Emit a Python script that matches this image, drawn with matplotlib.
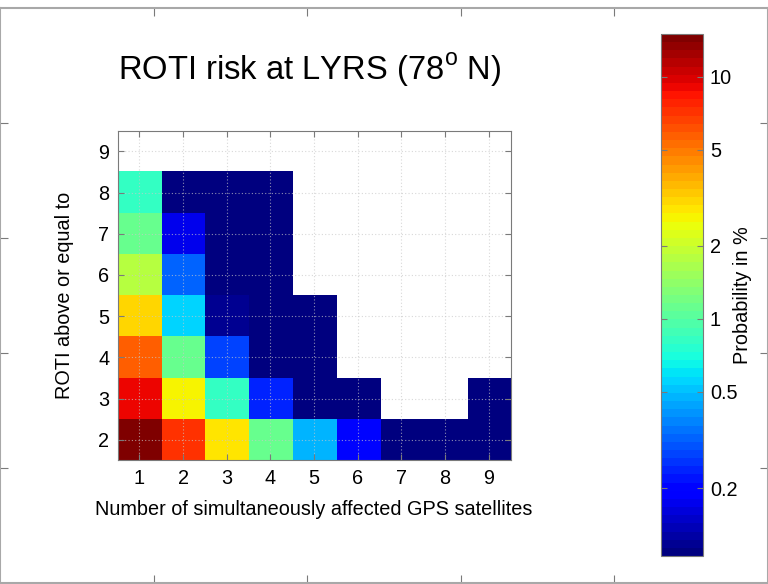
"""
roti_risk.py -- ROTI exceedance probability map for the LYRS station
"""

import numpy as np
import matplotlib
matplotlib.use("Agg")
import matplotlib.pyplot as plt
from matplotlib.colors import LogNorm

plt.rcParams["font.family"] = ["Liberation Sans", "DejaVu Sans"]
plt.rcParams["mathtext.fontset"] = "custom"
plt.rcParams["mathtext.rm"] = "Liberation Sans"

# ── Data ─────────────────────────────────────────────────────────────────────
n_sats = [1, 2, 3, 4, 5, 6, 7, 8, 9]          # affected GPS satellites
roti_levels = [2, 3, 4, 5, 6, 7, 8, 9]        # ROTI threshold
nan = np.nan
# probability in %, one row per ROTI level (2 .. 9)
prob_roti2 = [14.0, 7.0, 2.9, 1.16, 0.48, 0.20, 0.10, 0.10, 0.10]
prob_roti3 = [9.0, 2.6, 0.80, 0.24, 0.10, 0.10, nan, nan, 0.10]
prob_roti4 = [5.5, 1.13, 0.27, 0.10, 0.10, nan, nan, nan, nan]
prob_roti5 = [3.0, 0.56, 0.12, 0.10, 0.10, nan, nan, nan, nan]
prob_roti6 = [1.74, 0.32, 0.10, 0.10, nan, nan, nan, nan, nan]
prob_roti7 = [1.15, 0.17, 0.10, 0.10, nan, nan, nan, nan, nan]
prob_roti8 = [0.82, 0.11, 0.10, 0.10, nan, nan, nan, nan, nan]
prob_roti9 = [nan] * 9
cbar_ticks = [0.2, 0.5, 1, 2, 5, 10]

grid = np.array([prob_roti2, prob_roti3, prob_roti4, prob_roti5,
                 prob_roti6, prob_roti7, prob_roti8, prob_roti9])

FRAME = "#7a7a7a"
GRID = "#c8c8c8"
FS = 14.3

cmap = plt.get_cmap("jet", 64).copy()
cmap.set_bad("white")
norm = LogNorm(vmin=0.105, vmax=15)

W, H = 768, 584
fig = plt.figure(figsize=(W / 100, H / 100), dpi=100, facecolor="white")

# ── Outer frame with edge ticks ──────────────────────────────────────────────
frame = fig.add_axes([0, 1 / H, 1, 575 / H], zorder=-1)
frame.set_xlim(0, 1)
frame.set_ylim(0, 1)
frame.set_xticks([0.2, 0.4, 0.6, 0.8])
frame.set_yticks([0.2, 0.4, 0.6, 0.8])
frame.tick_params(direction="in", length=6, color=FRAME, labelleft=False,
                  labelbottom=False, top=True, right=True)
for sp in frame.spines.values():
    sp.set_color("#a8a8a8")
    sp.set_linewidth(1.5)

# ── Heat map ─────────────────────────────────────────────────────────────────
x0, x1 = 117.5, 510.7
y0, y1 = 130.7, 460.3
ax = fig.add_axes([x0 / W, 1 - y1 / H, (x1 - x0) / W, (y1 - y0) / H])
im = ax.imshow(np.ma.masked_invalid(grid), cmap=cmap, norm=norm,
               origin="lower", aspect="auto", interpolation="nearest",
               extent=[n_sats[0] - 0.5, n_sats[-1] + 0.5,
                       roti_levels[0] - 0.5, roti_levels[-1] + 0.5])
ax.set_xticks(n_sats)
ax.set_yticks(roti_levels)
ax.tick_params(direction="in", length=4, color=FRAME, labelsize=FS,
               top=True, right=True, pad=6)
ax.grid(True, color=GRID, linestyle=(0, (1, 2)), linewidth=0.8, alpha=0.7)
ax.set_axisbelow(False)
for sp in ax.spines.values():
    sp.set_color(FRAME)
ax.set_xlabel("Number of simultaneously affected GPS satellites",
              fontsize=FS, labelpad=9)
ax.set_ylabel("ROTI above or equal to", fontsize=FS, labelpad=17)

fig.text(310 / W, 1 - 80 / H, r"ROTI risk at LYRS (78$^\mathrm{o}$ N)",
         fontsize=23.6, ha="center", va="baseline")

# ── Colour bar ───────────────────────────────────────────────────────────────
cx0, cx1 = 660.7, 703.0
cy0, cy1 = 34.0, 556.0
cax = fig.add_axes([cx0 / W, 1 - cy1 / H, (cx1 - cx0) / W, (cy1 - cy0) / H])
cb = fig.colorbar(im, cax=cax)
cb.set_ticks(cbar_ticks)
cb.set_ticklabels([f"{t:g}" for t in cbar_ticks])
cb.minorticks_off()
cax.tick_params(direction="in", length=4, color=FRAME, labelsize=FS,
                left=True, right=True, pad=5)
cb.outline.set_edgecolor(FRAME)
fig.text(742 / W, 1 - 295 / H, "Probability in %", fontsize=FS,
         rotation=90, ha="center", va="center")

fig.savefig("out.png", dpi=100, facecolor="white")
plt.close(fig)
